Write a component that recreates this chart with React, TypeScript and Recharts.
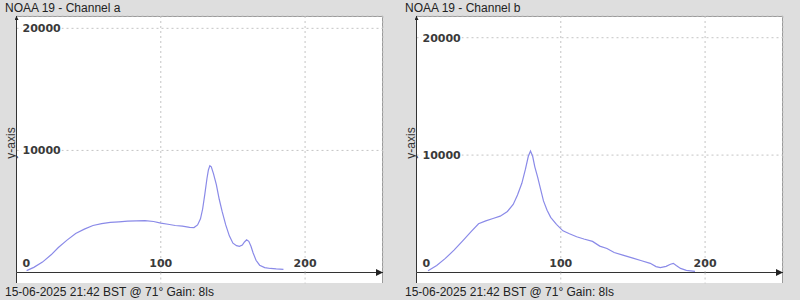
import { LineChart, Line, XAxis, YAxis, CartesianGrid } from 'recharts'

// channel a: sample position and counts
const chanAX = [7, 12, 18, 24, 29, 35, 41, 47, 53, 59, 65, 71, 77, 83, 89, 95, 100, 105, 110, 115, 120, 123, 125.5, 127.5, 129, 130.5, 132, 133, 134, 135, 136.5, 138.5, 140.5, 142.5, 145, 147.5, 150, 152.5, 154.5, 156.5, 158, 159.5, 161, 162.5, 164, 166, 168.5, 172, 176, 180, 185]
const chanAY = [150, 420, 850, 1450, 2050, 2650, 3200, 3550, 3850, 4000, 4100, 4150, 4200, 4230, 4250, 4180, 4050, 3950, 3850, 3800, 3700, 3680, 3900, 4400, 5200, 6400, 7700, 8400, 8750, 8650, 8100, 7200, 6000, 5000, 3900, 3000, 2400, 2200, 2150, 2250, 2500, 2680, 2550, 2150, 1600, 1000, 600, 400, 330, 290, 260]

// channel b
const chanBX = [8, 14, 20, 26, 32, 38, 43, 48, 53, 58, 63, 67, 70, 73, 75.5, 77.5, 79, 80.5, 82, 84, 86, 88, 90.5, 93, 97, 101.5, 106, 111, 116, 122, 127, 132, 137, 143, 150, 156, 162, 166, 169, 173, 176, 178, 180, 183, 187, 193]
const chanBY = [150, 600, 1200, 1900, 2700, 3500, 4150, 4400, 4600, 4800, 5200, 5800, 6600, 7600, 8800, 9900, 10350, 9900, 9000, 8100, 7100, 6100, 5300, 4700, 4100, 3550, 3300, 3050, 2850, 2650, 2250, 2050, 1700, 1480, 1230, 1000, 780, 500, 420, 520, 700, 780, 600, 350, 180, 100]

const xTicks = [0, 100, 200]
const yTicks = [10000, 20000]
const footer = '15-06-2025 21:42 BST @ 71° Gain: 8ls'

const tickFont = { fontFamily: 'DejaVu Sans', fontWeight: 'bold', fontSize: 11, fill: '#3a3a3a' }

function XTick({ x, y, payload, index }: any) {
  return (
    <g>
      {index > 0 && <line x1={x} x2={x} y1={y} y2={y + 11} stroke="#c4c4c4" strokeDasharray="2 3" />}
      <text x={index === 0 ? x + 6 : x} y={y - 6} textAnchor={index === 0 ? 'start' : 'middle'} {...tickFont}>
        {payload.value}
      </text>
    </g>
  )
}

function YTick({ x, y, payload }: any) {
  return (
    <g>
      <rect x={x + 5} y={y - 7} width={40} height={14} fill="#fff" />
      <text x={x + 6} y={y + 4} textAnchor="start" {...tickFont}>
        {payload.value}
      </text>
    </g>
  )
}

interface PanelProps {
  title: string
  xs: number[]
  ys: number[]
  yMax: number
}

function Panel({ title, xs, ys, yMax }: PanelProps) {
  const data = xs.map((x, i) => ({ x, v: ys[i] }))
  return (
    <div style={{ position: 'relative', width: 400, height: 300 }}>
      <div style={{ position: 'absolute', left: 5, top: 0, fontFamily: 'Liberation Sans', fontSize: 12, lineHeight: '16px', color: '#222' }}>
        {title}
      </div>
      <div
        style={{
          position: 'absolute', left: 16, top: 16, width: 367, height: 267, boxSizing: 'border-box',
          background: '#fff', borderTop: '1px solid #9a9a9a', borderRight: '1px solid #9a9a9a', borderLeft: '1px solid #333',
        }}
      />
      <div style={{ position: 'absolute', left: 0, top: 0 }}>
        <LineChart width={400} height={300} data={data} margin={{ top: 16, right: 17, bottom: 0, left: 0 }}>
          <CartesianGrid stroke="#c4c4c4" strokeDasharray="2 3" />
          <XAxis
            type="number" dataKey="x" domain={[0, 254]} ticks={xTicks} height={27.5}
            tickSize={0} tickMargin={0} tick={<XTick />} interval={0}
            axisLine={{ stroke: '#333', markerEnd: 'url(#arrowX)' }} tickLine={false}
          />
          <YAxis
            type="number" domain={[0, yMax]} ticks={yTicks} width={16.5}
            tickSize={0} tickMargin={0} tick={<YTick />} interval={0}
            axisLine={{ stroke: '#333', markerStart: 'url(#arrowY)' }} tickLine={false}
          />
          <Line type="linear" dataKey="v" stroke="#8a8ae8" strokeWidth={1.2} dot={false} isAnimationActive={false} />
        </LineChart>
      </div>
      <div
        style={{
          position: 'absolute', left: 1, top: 136, width: 20, transform: 'rotate(-90deg)', transformOrigin: 'center',
          fontFamily: 'Liberation Sans', fontSize: 12, color: '#333', textAlign: 'center', whiteSpace: 'nowrap',
        }}
      >
        <span style={{ display: 'inline-block', width: 40, marginLeft: -10 }}>y-axis</span>
      </div>
      <div style={{ position: 'absolute', left: 5, top: 284, fontFamily: 'Liberation Sans', fontSize: 12, lineHeight: '16px', color: '#222' }}>
        {footer}
      </div>
    </div>
  )
}

export default function App() {
  return (
    <div style={{ position: 'absolute', left: 0, top: 0, width: 800, height: 300, background: '#dedede', display: 'flex' }}>
      <svg width={0} height={0} style={{ position: 'absolute' }}>
        <defs>
          <marker id="arrowX" viewBox="0 0 10 10" refX={10} refY={5} markerWidth={8} markerHeight={7} markerUnits="userSpaceOnUse" orient="auto-start-reverse">
            <path d="M0,0 L10,5 L0,10 z" fill="#222" />
          </marker>
          <marker id="arrowY" viewBox="0 0 10 10" refX={10} refY={5} markerWidth={4} markerHeight={4} markerUnits="userSpaceOnUse" orient="auto-start-reverse">
            <path d="M0,0 L10,5 L0,10 z" fill="#222" />
          </marker>
        </defs>
      </svg>
      <Panel title="NOAA 19 - Channel a" xs={chanAX} ys={chanAY} yMax={21010} />
      <Panel title="NOAA 19 - Channel b" xs={chanBX} ys={chanBY} yMax={21850} />
    </div>
  )
}
